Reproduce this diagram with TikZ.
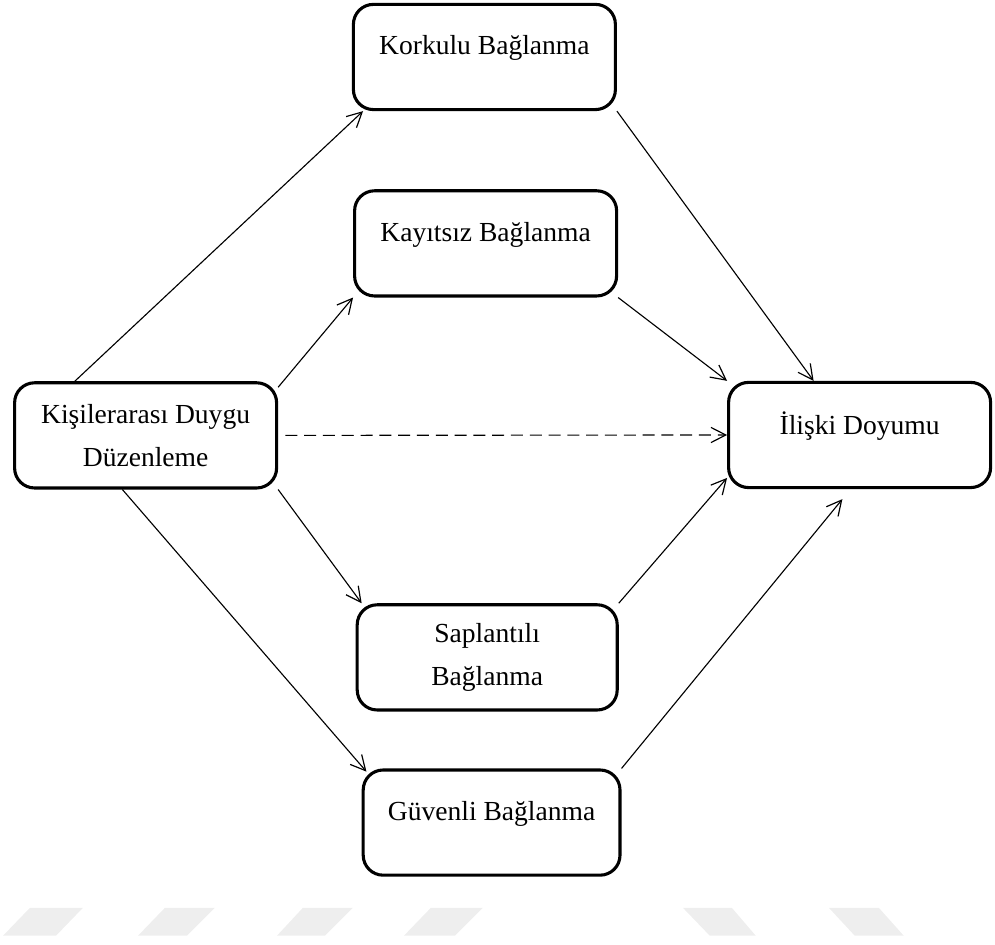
\documentclass[tikz,border=0pt]{standalone}
\usepackage{fontspec}
\setmainfont{Liberation Serif}
\usetikzlibrary{arrows.meta,positioning,calc}
\definecolor{wmgray}{RGB}{238,238,238}
\newcommand{\oneline}[1]{\raisebox{0.22cm}[\height][\depth]{#1}}

\begin{document}
\begin{tikzpicture}[
    box/.style={draw, line width=2.2pt, rounded corners=0.5cm, align=center,
        minimum width=6.55cm, minimum height=2.63cm, inner sep=0pt,
        font=\fontsize{19.6}{30.5}\selectfont},
    link/.style={line width=0.8pt, -{Straight Barb[length=0.37cm,width=0.38cm,line width=0.85pt]}}]
    \useasboundingbox (0,0) rectangle (24.875,23.625);

    % Watermark
    \begin{scope}[x=0.025cm, y=-0.025cm, yshift=23.625cm]
        \foreach \a/\b/\c/\d in {30/83/56/3, 165/215/187/138, 303/353/325/277,
                                 431/483/455/404, 683/732/756/710, 829/879/904/855}
            \fill[wmgray] (\a,908) -- (\b,908) -- (\c,936) -- (\d,936) -- cycle;
    \end{scope}

    % Boxes
    \node[box] (kisi) at (3.64,12.74) {Kişilerarası Duygu\\Düzenleme};
    \node[box] (korkulu) at (12.11,22.2) {\oneline{Korkulu Bağlanma}};
    \node[box] (kayitsiz) at (12.14,17.54) {\oneline{Kayıtsız Bağlanma}};
    \node[box, minimum width=6.5cm] (saplantili) at (12.18,7.19) {Saplantılı\\Bağlanma};
    \node[box, minimum width=6.42cm] (guvenli) at (12.29,3.06) {\oneline{Güvenli Bağlanma}};
    \node[box] (iliski) at (21.49,12.75) {\oneline{İlişki Doyumu}};

    % Paths from Kisilerarasi Duygu Duzenleme
    \draw[link] ([xshift=-1.77cm]kisi.north) -- ([xshift=0.28cm]korkulu.south west);
    \draw[link] ([yshift=-0.15cm]kisi.north east) -- (kayitsiz.south west);
    \draw[link, dashed, dash pattern=on 0.3cm off 0.17cm] ([xshift=0.18cm]kisi.east) -- (iliski.west);
    \draw[link] (kisi.south east) -- ([xshift=0.15cm]saplantili.north west);
    \draw[link] ([xshift=-0.58cm]kisi.south) -- ([xshift=0.12cm,yshift=-0.08cm]guvenli.north west);

    % Paths to Iliski Doyumu
    \draw[link] (korkulu.south east) -- ([xshift=-1.15cm]iliski.north);
    \draw[link] (kayitsiz.south east) -- (iliski.north west);
    \draw[link] (saplantili.north east) -- ([yshift=0.28cm]iliski.south west);
    \draw[link] (guvenli.north east) -- ([xshift=-0.43cm,yshift=-0.25cm]iliski.south);
\end{tikzpicture}
\end{document}
